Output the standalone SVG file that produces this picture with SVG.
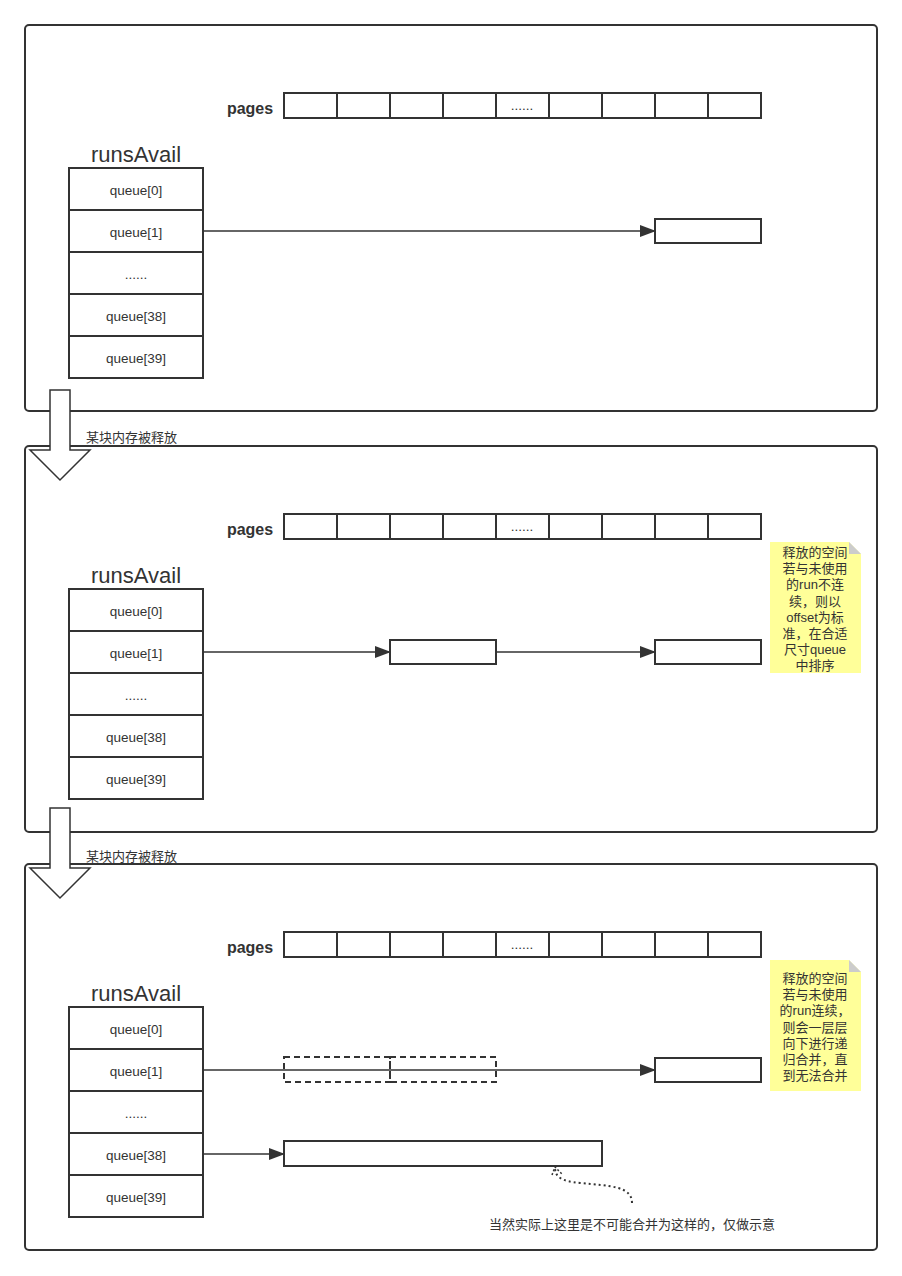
<svg xmlns="http://www.w3.org/2000/svg" width="902" height="1276" viewBox="0 0 902 1276">
<defs>
<style>
.panel{fill:#fff;stroke:#333;stroke-width:2}
.box{fill:#fff;stroke:#333;stroke-width:2}
.dash{fill:none;stroke:#333;stroke-width:2;stroke-dasharray:6,4}
.ln{fill:none;stroke:#333;stroke-width:1.5}
.t{font-family:"Liberation Sans","Noto Sans CJK SC",sans-serif;font-size:13.5px;fill:#333;text-anchor:middle}
.n{font-family:"Liberation Sans","Noto Sans CJK SC",sans-serif;font-size:13px;fill:#333;text-anchor:middle}
.pg{font-family:"Liberation Sans",sans-serif;font-size:16px;font-weight:bold;fill:#333;text-anchor:middle}
.ra{font-family:"Liberation Sans",sans-serif;font-size:22px;fill:#333;text-anchor:middle}
.cn{font-family:"Liberation Sans","Noto Sans CJK SC",sans-serif;font-size:13px;fill:#333}
.note{fill:#ffff99;stroke:none}
.fold{fill:#cccccc}
.big{fill:#fff;stroke:#333;stroke-width:1.5}
</style>
<marker id="ah" markerWidth="16" markerHeight="12" refX="15" refY="6" orient="auto" markerUnits="userSpaceOnUse">
<path d="M0,0 L16,6 L0,12 Z" fill="#333"/>
</marker>
<g id="pagesRow">
<rect class="box" x="284" y="0" width="477" height="25"/>
<path class="ln" style="stroke-width:2" d="M337,0V25M390,0V25M443,0V25M496,0V25M549,0V25M602,0V25M655,0V25M708,0V25"/>
<text class="t" x="522" y="17">......</text>
<text class="pg" x="250" y="21">pages</text>
</g>
<g id="runsTable">
<text class="ra" x="136" y="-6">runsAvail</text>
<rect class="box" x="69" y="0" width="134" height="210"/>
<path class="ln" style="stroke-width:2" d="M69,42H203M69,84H203M69,126H203M69,168H203"/>
<text class="t" x="136" y="27">queue[0]</text>
<text class="t" x="136" y="69">queue[1]</text>
<text class="t" x="136" y="111">......</text>
<text class="t" x="136" y="153">queue[38]</text>
<text class="t" x="136" y="195">queue[39]</text>
</g>
</defs>

<g id="panel1">
<rect class="panel" x="25" y="25" width="852" height="386" rx="4"/>
<use href="#pagesRow" y="93"/>
<use href="#runsTable" y="168"/>
</g>
<g id="panel2">
<rect class="panel" x="25" y="446" width="852" height="386" rx="4"/>
<use href="#pagesRow" y="514"/>
<use href="#runsTable" y="589"/>
</g>
<g id="panel3">
<rect class="panel" x="25" y="864" width="852" height="386" rx="4"/>
<use href="#pagesRow" y="932"/>
<use href="#runsTable" y="1007"/>
</g>

<g id="p1-run">
<rect class="box" x="655" y="219" width="106" height="24"/>
</g>
<g id="p2-run-a">
<rect class="box" x="390" y="640" width="106" height="24"/>
</g>
<g id="p2-run-b">
<rect class="box" x="655" y="640" width="106" height="24"/>
</g>
<g id="p3-dash-a">
<rect class="dash" x="284" y="1057" width="106" height="25"/>
</g>
<g id="p3-dash-b">
<rect class="dash" x="390" y="1057" width="106" height="25"/>
</g>
<g id="p3-run-b">
<rect class="box" x="655" y="1058" width="106" height="24"/>
</g>
<g id="p3-merged">
<rect class="box" x="284" y="1141" width="318" height="25"/>
</g>

<g id="connectors">
<path class="ln" d="M203,231H655" marker-end="url(#ah)"/>
<path class="ln" d="M203,652H390" marker-end="url(#ah)"/>
<path class="ln" d="M496,652H655" marker-end="url(#ah)"/>
<path class="ln" d="M203,1070H655" marker-end="url(#ah)"/>
<path class="ln" d="M203,1154H284" marker-end="url(#ah)"/>
<path d="M632,1203 C632,1186 610,1186 580,1183 C562,1181 555,1178 555,1167" fill="none" stroke="#333" stroke-width="2" stroke-dasharray="2,3"/>
<path d="M552,1175 L555,1167 L562,1174" fill="none" stroke="#333" stroke-width="1.5" stroke-dasharray="2,2"/>
</g>

<g id="step-arrow-1">
<path class="big" d="M50,390 H70 V450 H90 L60,480 L30,450 H50 Z"/>
<text class="cn" x="86" y="442">某块内存被释放</text>
</g>
<g id="step-arrow-2">
<path class="big" d="M50,808 H70 V868 H90 L60,898 L30,868 H50 Z"/>
<text class="cn" x="86" y="861">某块内存被释放</text>
</g>

<g id="note1">
<path class="note" d="M770,542 H849 L861,554 V673 H770 Z"/>
<path class="fold" d="M849,542 L861,554 H849 Z"/>
<text class="n" x="815" y="557">释放的空间</text>
<text class="n" x="815" y="573">若与未使用</text>
<text class="n" x="815" y="589">的run不连</text>
<text class="n" x="815" y="606">续，则以</text>
<text class="n" x="815" y="622">offset为标</text>
<text class="n" x="815" y="638">准，在合适</text>
<text class="n" x="815" y="654">尺寸queue</text>
<text class="n" x="815" y="670">中排序</text>
</g>
<g id="note2">
<path class="note" d="M770,960 H849 L861,972 V1091 H770 Z"/>
<path class="fold" d="M849,960 L861,972 H849 Z"/>
<text class="n" x="815" y="983">释放的空间</text>
<text class="n" x="815" y="999">若与未使用</text>
<text class="n" x="815" y="1015">的run连续，</text>
<text class="n" x="815" y="1032">则会一层层</text>
<text class="n" x="815" y="1048">向下进行递</text>
<text class="n" x="815" y="1064">归合并，直</text>
<text class="n" x="815" y="1080">到无法合并</text>
</g>

<g id="caption">
<text class="n" x="632" y="1229">当然实际上这里是不可能合并为这样的，仅做示意</text>
</g>
</svg>
